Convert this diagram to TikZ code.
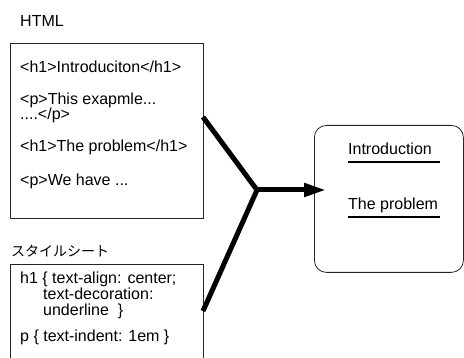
\documentclass[tikz,border=0pt]{standalone}
\usepackage{fontspec}
\setmainfont{Liberation Sans}
\newfontfamily\jpfont{Noto Sans CJK JP}
\usetikzlibrary{arrows.meta}
\begin{document}
\begin{tikzpicture}[x=1pt,y=-1pt,
  txt/.style={anchor=base west,inner sep=0pt,font=\fontsize{16}{15}\selectfont},
  box/.style={draw=black!85,line width=0.8pt,inner sep=0pt,anchor=north west},
  flow/.style={line width=5pt},
  uline/.style={line width=2pt}]
\useasboundingbox (0,0) rectangle (464,358);
\clip (0,0) rectangle (464,358);
% HTML box
\node[txt] (lhtml) at (20,27) {HTML};
\node[box,minimum width=193pt,minimum height=175pt] (html) at (10,43) {};
\node[txt] (t1) at (20,73) {<h1>Introduciton</h1>};
\node[txt] (t2) at (20,105) {<p>This exapmle...};
\node[txt] (t3) at (20,120) {....</p>};
\node[txt] (t4) at (20,152) {<h1>The problem</h1>};
\node[txt] (t5) at (20,186) {<p>We have ...};
% CSS box
\node[txt,font=\jpfont\fontsize{14}{14}\selectfont] (lcss) at (11,257) {スタイルシート};
\node[box,minimum width=193pt,minimum height=120pt] (css) at (10,264) {};
\node[txt] (c1) at (20,284) {h1 \{ text-align: center;};
\node[txt] (c2) at (43,300) {text-decoration:};
\node[txt] (c3) at (43,316) {underline \ \}};
\node[txt] (c4) at (20,342) {p \{ text-indent: 1em \}};
% result box
\node[box,rounded corners=12pt,minimum width=149pt,minimum height=147pt] (res) at (314,125) {};
\node[txt] (r1) at (348,155) {Introduction};
\node[txt] (r2) at (348,210) {The problem};
\coordinate (u1a) at (348,162); \coordinate (u1b) at (440,162);
\coordinate (u2a) at (348,217); \coordinate (u2b) at (440,217);
\draw[uline] (u1a) -- (u1b);
\draw[uline] (u2a) -- (u2b);
% connectors
\coordinate (ha) at (203,117);
\coordinate (ca) at (203,311);
\coordinate (j) at (257,190);
\coordinate (tip) at (326,190);
\draw[flow,line join=miter] (ha) -- (j) -- (ca);
\draw[flow,-{Triangle[length=22pt,width=13pt]}] (j) -- (tip);
\end{tikzpicture}
\end{document}
